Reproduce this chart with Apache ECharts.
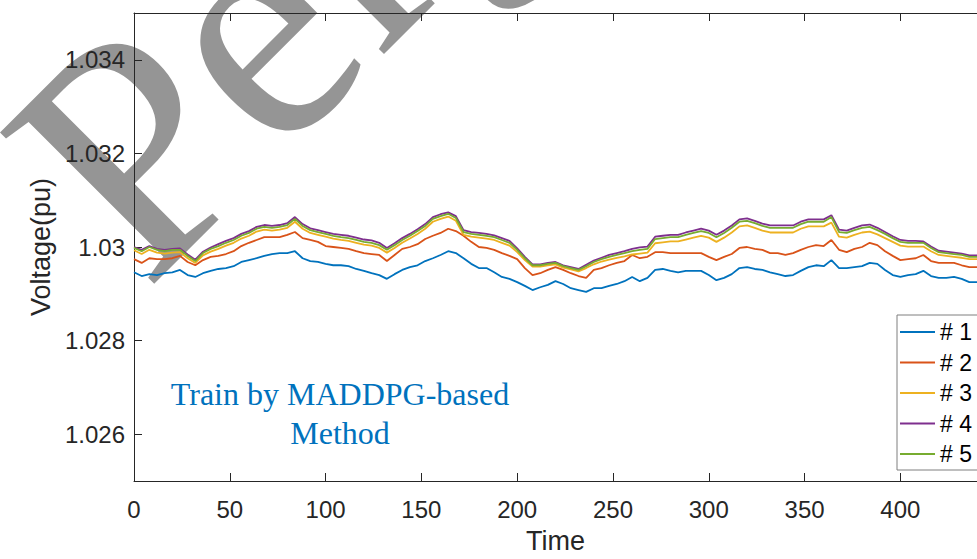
<!DOCTYPE html>
<html>
<head>
<meta charset="utf-8">
<script src="https://cdn.jsdelivr.net/npm/echarts@6/dist/echarts.min.js"></script>
<style>
  html, body { margin: 0; padding: 0; background: #fff; }
  #chart { width: 977px; height: 559px; }
</style>
</head>
<body>
<div id="chart"></div>
<script>
// Sampling instants (time steps)
const time = [0,4,8,12,16,20,24,28,32,36,40,44,48,52,56,60,64,68,72,76,80,84,88,92,96,100,
  104,108,112,116,120,124,128,132,136,140,144,148,152,156,160,164,168,172,176,180,184,188,192,196,200,
  204,208,212,216,220,224,228,232,236,240,244,248,252,256,260,264,268,272,276,280,284,288,292,296,300,
  304,308,312,316,320,324,328,332,336,340,344,348,352,356,360,364,368,372,376,380,384,388,392,396,400,
  404,408,412,416,420,424,428,432,436,440];

// Bus voltages (pu)
const bus1 = [1.02946,1.02938,1.02942,1.02940,1.02944,1.02946,1.02951,1.02940,1.02936,1.02944,1.02949,
  1.02953,1.02955,1.02959,1.02968,1.02972,1.02976,1.02981,1.02985,1.02987,1.02987,1.02991,1.02976,1.02970,
  1.02968,1.02964,1.02961,1.02961,1.02959,1.02953,1.02949,1.02944,1.02940,1.02932,1.02942,1.02951,1.02957,
  1.02961,1.02970,1.02976,1.02983,1.02991,1.02987,1.02976,1.02964,1.02955,1.02955,1.02946,1.02936,1.02932,
  1.02925,1.02917,1.02908,1.02914,1.02919,1.02927,1.02921,1.02912,1.02908,1.02904,1.02912,1.02912,1.02917,
  1.02921,1.02927,1.02936,1.02927,1.02934,1.02951,1.02953,1.02949,1.02946,1.02949,1.02949,1.02949,1.02940,
  1.02929,1.02934,1.02942,1.02955,1.02957,1.02953,1.02951,1.02946,1.02942,1.02938,1.02940,1.02949,1.02957,
  1.02961,1.02959,1.02972,1.02955,1.02955,1.02957,1.02959,1.02966,1.02964,1.02951,1.02940,1.02936,1.02940,
  1.02942,1.02949,1.02938,1.02934,1.02934,1.02936,1.02932,1.02925,1.02925];

const bus2 = [1.02974,1.02966,1.02976,1.02974,1.02974,1.02976,1.02981,1.02968,1.02961,1.02972,1.02979,
  1.02981,1.02985,1.02991,1.03002,1.03009,1.03015,1.03021,1.03021,1.03021,1.03026,1.03032,1.03019,1.03015,
  1.03011,1.03002,1.03000,1.02998,1.02996,1.02991,1.02987,1.02985,1.02983,1.02970,1.02983,1.02996,1.03000,
  1.03006,1.03017,1.03024,1.03030,1.03039,1.03034,1.03024,1.03011,1.03000,1.02998,1.02994,1.02987,1.02981,
  1.02974,1.02955,1.02940,1.02944,1.02951,1.02957,1.02951,1.02944,1.02938,1.02934,1.02951,1.02955,1.02961,
  1.02966,1.02970,1.02983,1.02976,1.02979,1.02989,1.02989,1.02987,1.02987,1.02987,1.02987,1.02987,1.02979,
  1.02972,1.02979,1.02985,1.02998,1.03000,1.02996,1.02994,1.02987,1.02987,1.02983,1.02987,1.02994,1.03000,
  1.03004,1.03002,1.03015,1.02994,1.02989,1.02996,1.03000,1.03009,1.03004,1.02991,1.02981,1.02972,1.02974,
  1.02976,1.02983,1.02970,1.02966,1.02966,1.02966,1.02961,1.02957,1.02957];

const bus3 = [1.02993,1.02985,1.02994,1.02988,1.02986,1.02988,1.02989,1.02976,1.02966,1.02982,1.02990,
  1.02996,1.03003,1.03009,1.03018,1.03024,1.03033,1.03037,1.03035,1.03037,1.03041,1.03054,1.03039,1.03030,
  1.03026,1.03022,1.03018,1.03015,1.03013,1.03009,1.03005,1.03003,1.02998,1.02988,1.02998,1.03009,1.03018,
  1.03028,1.03039,1.03054,1.03060,1.03065,1.03056,1.03026,1.03022,1.03020,1.03018,1.03015,1.03009,1.03003,
  1.02989,1.02972,1.02958,1.02958,1.02961,1.02963,1.02956,1.02952,1.02948,1.02955,1.02963,1.02969,1.02973,
  1.02977,1.02980,1.02984,1.02986,1.02988,1.03008,1.03010,1.03012,1.03012,1.03016,1.03020,1.03024,1.03020,
  1.03011,1.03020,1.03031,1.03044,1.03046,1.03041,1.03035,1.03031,1.03031,1.03031,1.03031,1.03039,1.03044,
  1.03044,1.03044,1.03052,1.03022,1.03020,1.03026,1.03031,1.03033,1.03027,1.03019,1.03011,1.03003,1.03001,
  1.03001,1.03001,1.02991,1.02983,1.02981,1.02979,1.02977,1.02974,1.02974];

const bus4 = [1.03000,1.02994,1.03002,1.02996,1.02994,1.02996,1.02997,1.02984,1.02973,1.02990,1.02999,
  1.03006,1.03013,1.03019,1.03028,1.03034,1.03043,1.03047,1.03045,1.03047,1.03051,1.03064,1.03049,1.03040,
  1.03036,1.03032,1.03028,1.03026,1.03024,1.03020,1.03016,1.03014,1.03009,1.02998,1.03008,1.03019,1.03028,
  1.03038,1.03049,1.03064,1.03070,1.03074,1.03066,1.03036,1.03032,1.03030,1.03028,1.03025,1.03019,1.03013,
  1.02997,1.02979,1.02963,1.02963,1.02966,1.02968,1.02961,1.02957,1.02953,1.02962,1.02971,1.02977,1.02983,
  1.02987,1.02991,1.02996,1.02999,1.03001,1.03022,1.03024,1.03026,1.03026,1.03031,1.03035,1.03039,1.03035,
  1.03026,1.03035,1.03046,1.03059,1.03061,1.03056,1.03050,1.03046,1.03046,1.03046,1.03046,1.03054,1.03059,
  1.03059,1.03059,1.03068,1.03037,1.03035,1.03041,1.03046,1.03048,1.03041,1.03032,1.03023,1.03015,1.03013,
  1.03013,1.03012,1.03001,1.02992,1.02990,1.02988,1.02986,1.02982,1.02982];

const bus5 = [1.02998,1.02991,1.03000,1.02994,1.02991,1.02994,1.02994,1.02981,1.02970,1.02987,1.02996,
  1.03002,1.03009,1.03015,1.03024,1.03030,1.03039,1.03043,1.03041,1.03043,1.03047,1.03060,1.03045,1.03036,
  1.03032,1.03028,1.03024,1.03021,1.03019,1.03015,1.03011,1.03009,1.03004,1.02994,1.03004,1.03015,1.03024,
  1.03034,1.03045,1.03060,1.03066,1.03071,1.03062,1.03032,1.03028,1.03026,1.03024,1.03021,1.03015,1.03009,
  1.02994,1.02976,1.02961,1.02961,1.02964,1.02966,1.02959,1.02955,1.02951,1.02959,1.02968,1.02974,1.02979,
  1.02983,1.02987,1.02991,1.02994,1.02996,1.03017,1.03019,1.03021,1.03021,1.03026,1.03030,1.03034,1.03030,
  1.03021,1.03030,1.03041,1.03054,1.03056,1.03051,1.03045,1.03041,1.03041,1.03041,1.03041,1.03049,1.03054,
  1.03054,1.03054,1.03064,1.03032,1.03030,1.03036,1.03041,1.03043,1.03036,1.03028,1.03019,1.03011,1.03009,
  1.03009,1.03009,1.02998,1.02989,1.02987,1.02985,1.02983,1.02979,1.02979];

const seriesNames = ['# 1', '# 2', '# 3', '# 4', '# 5'];
const seriesData = [bus1, bus2, bus3, bus4, bus5];
const seriesColors = ['#0072BD', '#D95319', '#EDB120', '#7E2F8E', '#77AC30'];

const xTicks = [0, 50, 100, 150, 200, 250, 300, 350, 400];
const yTicks = [1.026, 1.028, 1.030, 1.032, 1.034];
const xRange = [0, 440];
const yRange = [1.025, 1.035];

const axisColor = '#262626';
const sans = '"Liberation Sans", Arial, sans-serif';

const chart = echarts.init(document.getElementById('chart'), null, { renderer: 'svg' });

const lineSeries = seriesNames.map((name, i) => ({
  name: name,
  type: 'line',
  xAxisIndex: 0,
  yAxisIndex: 0,
  data: time.map((t, k) => [t, seriesData[i][k]]),
  showSymbol: false,
  symbol: 'none',
  animation: false,
  lineStyle: { color: seriesColors[i], width: 1.8 },
  itemStyle: { color: seriesColors[i] },
  z: 10 + i
}));

chart.setOption({
  backgroundColor: '#ffffff',
  animation: false,
  textStyle: { fontFamily: sans },
  grid: { left: 134, top: 13, width: 853, height: 468, containLabel: false },
  xAxis: [
    {
      type: 'value', position: 'bottom', min: xRange[0], max: xRange[1], z: 8,
      name: 'Time', nameLocation: 'middle', nameGap: 46,
      nameTextStyle: { fontSize: 27, color: axisColor, fontFamily: sans },
      axisLine: { show: true, onZero: false, lineStyle: { color: axisColor, width: 1 } },
      axisTick: { show: true, inside: true, length: 8, customValues: xTicks, lineStyle: { color: axisColor } },
      axisLabel: { show: true, customValues: xTicks, margin: 16, fontSize: 24, color: axisColor, fontFamily: sans },
      splitLine: { show: false }
    },
    {
      type: 'value', position: 'top', min: xRange[0], max: xRange[1], z: 8,
      axisLine: { show: true, onZero: false, lineStyle: { color: axisColor, width: 1 } },
      axisTick: { show: true, inside: true, length: 8, customValues: xTicks, lineStyle: { color: axisColor } },
      axisLabel: { show: false },
      splitLine: { show: false }
    }
  ],
  yAxis: [
    {
      type: 'value', position: 'left', min: yRange[0], max: yRange[1], z: 8,
      name: 'Voltage(pu)', nameLocation: 'middle', nameGap: 79,
      nameTextStyle: { fontSize: 27, color: axisColor, fontFamily: sans },
      axisLine: { show: true, onZero: false, lineStyle: { color: axisColor, width: 1 } },
      axisTick: { show: true, inside: true, length: 8, customValues: yTicks, lineStyle: { color: axisColor } },
      axisLabel: {
        show: true, customValues: yTicks, margin: 9, fontSize: 24, color: axisColor, fontFamily: sans,
        formatter: v => String(+(+v).toFixed(3))
      },
      splitLine: { show: false }
    }
  ],
  legend: {
    show: true,
    orient: 'vertical',
    left: 897,
    top: 315,
    z: 20,
    padding: [4, 42, 3, 3],
    itemGap: 4.5,
    itemWidth: 35,
    itemHeight: 2,
    icon: 'rect',
    backgroundColor: '#ffffff',
    borderColor: '#7f7f7f',
    borderWidth: 1,
    borderRadius: 0,
    textStyle: { fontSize: 23, color: '#000000', fontFamily: sans, lineHeight: 26 },
    data: seriesNames
  },
  series: lineSeries,
  graphic: [
    {
      type: 'text',
      x: 340,
      y: 374,
      z: 9,
      silent: true,
      style: {
        text: 'Train by MADDPG-based\nMethod',
        align: 'center',
        verticalAlign: 'top',
        fontSize: 32,
        fontFamily: 'Liberation Serif',
        lineHeight: 39,
        fill: '#0072BD'
      }
    },
    {
      // large grey diagonal lettering behind the plot
      type: 'text',
      x: 146,
      y: 292,
      rotation: Math.PI / 4,
      z: 1,
      silent: true,
      style: {
        text: 'Pergamon',
        align: 'left',
        verticalAlign: 'bottom',
        fontSize: 330,
        fontFamily: 'Liberation Serif',
        lineHeight: 223,
        fill: '#959595'
      }
    }
  ]
});
</script>
</body>
</html>
